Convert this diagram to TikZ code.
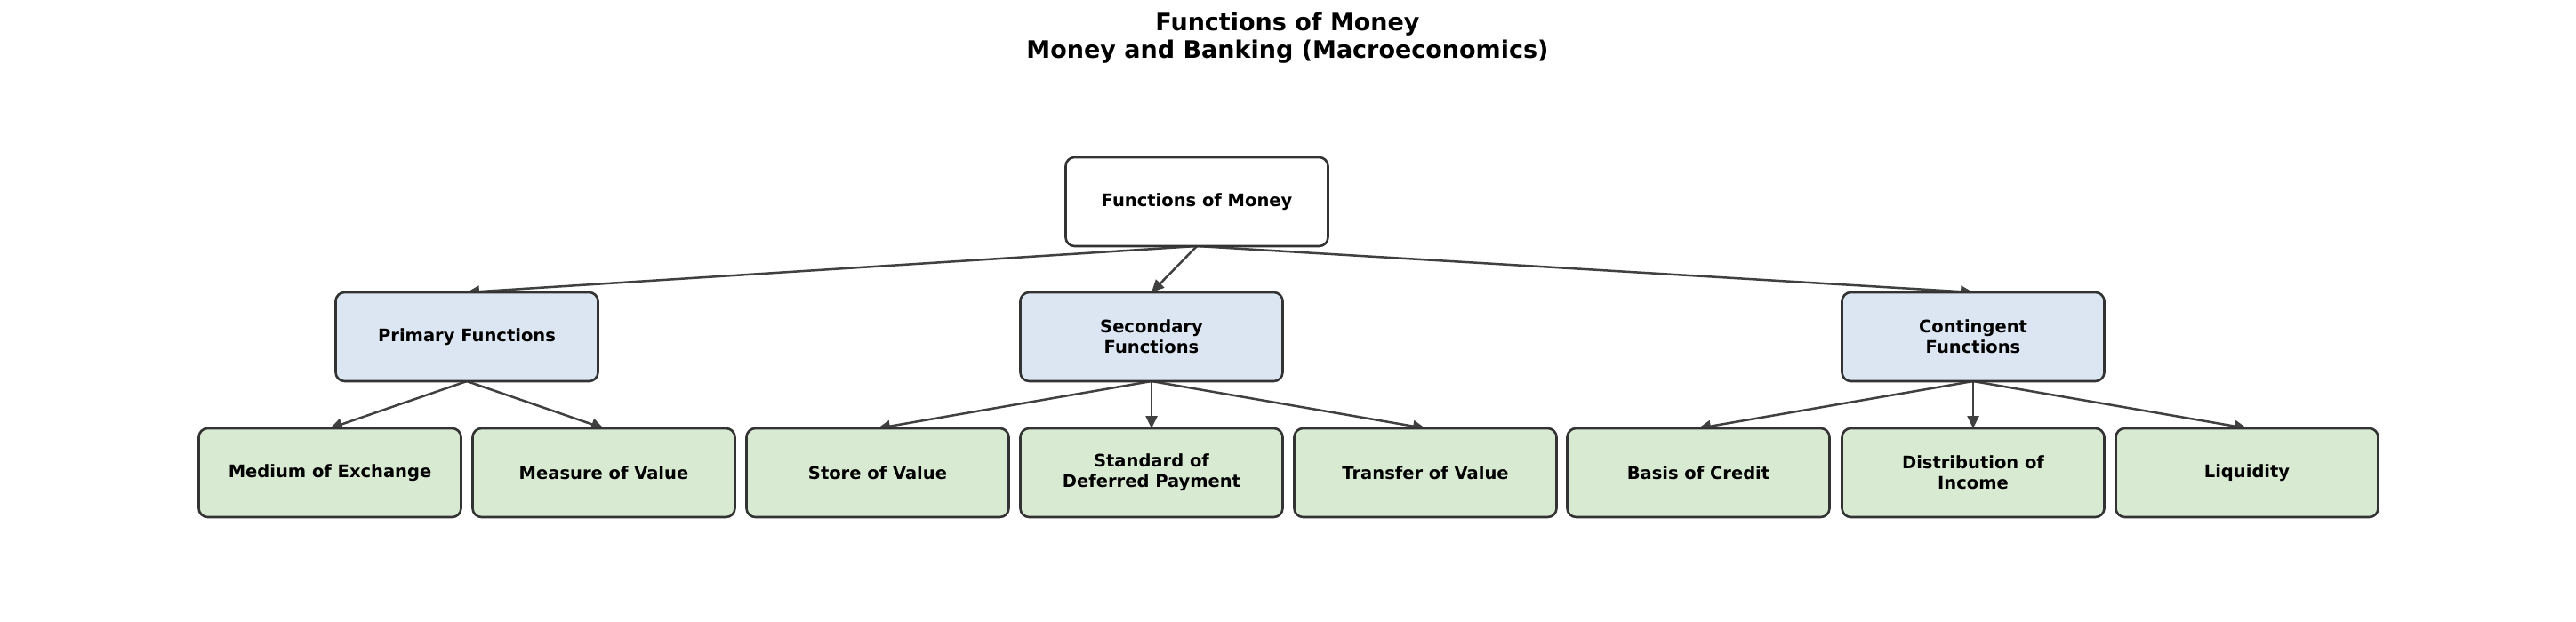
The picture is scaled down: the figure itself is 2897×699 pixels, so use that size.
\documentclass[tikz,border=0pt]{standalone}
\usepackage{fontspec}
\setmainfont{DejaVu Sans}
\usetikzlibrary{arrows.meta,backgrounds}
\definecolor{midblue}{HTML}{DCE6F2}
\definecolor{leafgreen}{HTML}{D9EAD3}
\definecolor{edgegray}{HTML}{333333}
\definecolor{arrowgray}{HTML}{404040}
\begin{document}
\begin{tikzpicture}[x=1pt,y=-1pt,
    fbox/.style={draw=edgegray,line width=2.6pt,rounded corners=10pt,
        minimum width=295pt,minimum height=100pt,inner sep=0pt,outer sep=0pt,
        align=center,font=\fontsize{19.5}{23}\selectfont\bfseries},
    rootbox/.style={fbox,fill=white},
    groupbox/.style={fbox,fill=midblue},
    leafbox/.style={fbox,fill=leafgreen},
    link/.style={draw=arrowgray,line width=2.5pt,-{Triangle[length=14pt,width=13pt]}}]
\useasboundingbox (0,0) rectangle (2897,699);
% title
\node[align=center,font=\fontsize{27}{31}\selectfont\bfseries] (title) at (1448,43)
    {Functions of Money\\Money and Banking (Macroeconomics)};
% root
\node[rootbox] (money) at (1346,227) {Functions of Money};
% groups
\node[groupbox] (primary) at (525,379) {Primary Functions};
\node[groupbox] (secondary) at (1295,379) {Secondary\\Functions};
\node[groupbox] (contingent) at (2219,379) {Contingent\\Functions};
% leaves
\node[leafbox] (medium) at (371,532) {Medium of Exchange};
\node[leafbox] (measure) at (679,532) {Measure of Value};
\node[leafbox] (store) at (987,532) {Store of Value};
\node[leafbox] (deferred) at (1295,532) {Standard of\\Deferred Payment};
\node[leafbox] (transfer) at (1603,532) {Transfer of Value};
\node[leafbox] (credit) at (1910,532) {Basis of Credit};
\node[leafbox] (income) at (2219,532) {Distribution of\\Income};
\node[leafbox] (liquidity) at (2527,532) {Liquidity};
% connectors behind the boxes
\begin{pgfonlayer}{background}
\foreach \a/\b in {money/primary,money/secondary,money/contingent,
    primary/medium,primary/measure,
    secondary/store,secondary/deferred,secondary/transfer,
    contingent/credit,contingent/income,contingent/liquidity}
{   \draw[link] (\a.south) -- (\b.north);
}
\end{pgfonlayer}
\end{tikzpicture}
\end{document}
